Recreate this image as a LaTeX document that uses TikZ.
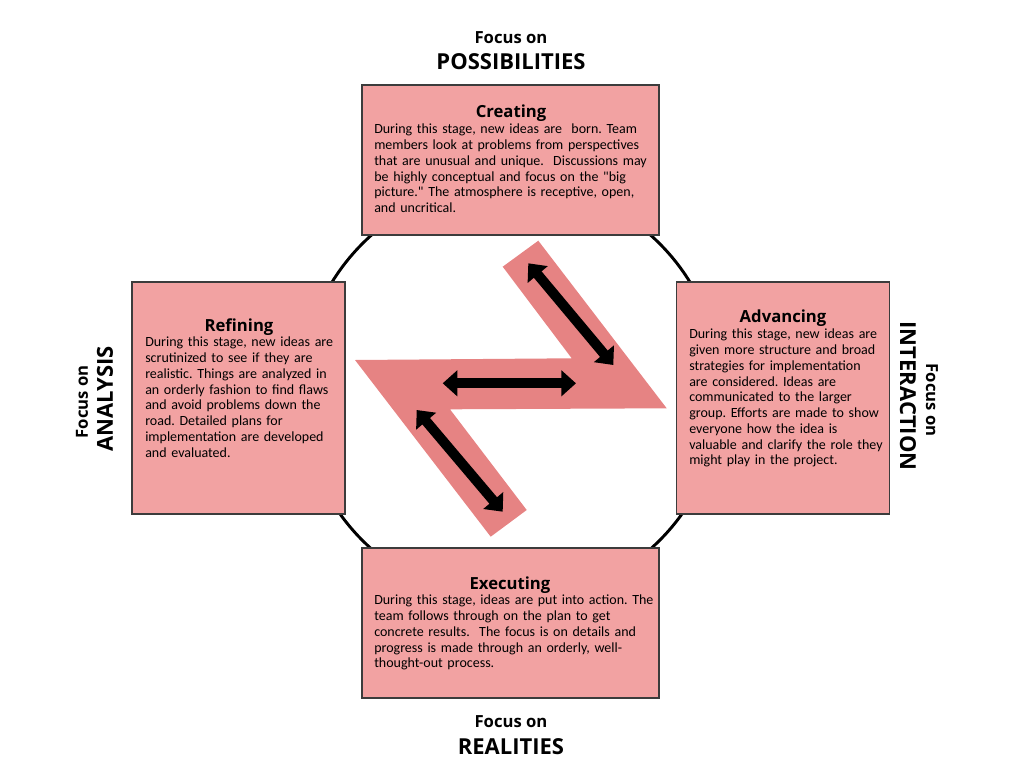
\documentclass[tikz,border=0pt]{standalone}
\usepackage{fontspec}
\setmainfont{Carlito}[Ligatures=TeXOff]
\newfontfamily\headfont{Open Sans}
\usetikzlibrary{arrows.meta,positioning}
\definecolor{stagepink}{HTML}{F2A2A2}
\definecolor{zpink}{HTML}{E68383}
\definecolor{edgegray}{HTML}{3C3C3C}
\frenchspacing

\begin{document}
\begin{tikzpicture}[
x=0.75pt, y=-0.75pt,
stagebox/.style={draw=edgegray, line width=0.9pt, fill=stagepink, inner sep=0pt},
wide/.style={minimum width=222.75pt, minimum height=112.5pt},
tall/.style={minimum width=159.75pt, minimum height=174pt},
head/.style={font=\headfont\bfseries\fontsize{12.5}{15}\selectfont, inner sep=0pt, anchor=base},
body/.style={font=\fontsize{10.5}{11.8}\selectfont, align=left, text width=#1, inner sep=0pt, anchor=north west},
focus/.style={font=\headfont\bfseries\fontsize{12.5}{15}\selectfont, inner sep=0pt},
focusbig/.style={font=\headfont\bfseries\fontsize{16.5}{20}\selectfont, inner sep=0pt},
dblarr/.style={{Triangle[length=11pt,width=19pt]}-{Triangle[length=11pt,width=19pt]}, line width=7.5pt}
]
\useasboundingbox (0,0) rectangle (1024,771);

% ring behind the four stages
\draw[line width=2.2pt] (511,392) circle[radius=210];

% the four stages
\node[stagebox, wide] (crt) at (510.5,160) {};
\node[stagebox, tall] (ref) at (238.5,398) {};
\node[stagebox, tall] (adv) at (783,398) {};
\node[stagebox, wide] (exe) at (510.5,623) {};

\node[head] (crtH) at (511,117) {Creating};
\node[body=230pt] (crtB) at (374,124) {During this stage, new ideas are \ born. Team\\
members look at problems from perspectives\\
that are unusual and unique. \ Discussions may\\
be highly conceptual and focus on the "big\\
picture." The atmosphere is receptive, open,\\
and uncritical.};

\node[head] (refH) at (239,331) {Refining};
\node[body=185pt] (refB) at (145,337) {During this stage, new ideas are\\
scrutinized to see if they are\\
realistic. Things are analyzed in\\
an orderly fashion to find flaws\\
and avoid problems down the\\
road. Detailed plans for\\
implementation are developed\\
and evaluated.};

\node[head] (advH) at (783,322) {Advancing};
\node[body=185pt] (advB) at (689,329) {During this stage, new ideas are\\
given more structure and broad\\
strategies for implementation\\
are considered. Ideas are\\
communicated to the larger\\
group. Efforts are made to show\\
everyone how the idea is\\
valuable and clarify the role they\\
might play in the project.};

\node[head] (exeH) at (510,589) {Executing};
\node[body=230pt] (exeB) at (374,595) {During this stage, ideas are put into action. The\\
team follows through on the plan to get\\
concrete results. \ The focus is on details and\\
progress is made through an orderly, well-\\
thought-out process.};

% focus labels
\node[focus] (posA) at (511,38) {Focus on};
\node[focusbig] (posB) at (511,62) {POSSIBILITIES};
\node[focus] (reaA) at (511,722) {Focus on};
\node[focusbig] (reaB) at (511,747) {REALITIES};
\node[focus, rotate=90] (anaA) at (82,402) {Focus on};
\node[focusbig, rotate=90] (anaB) at (105,399) {ANALYSIS};
\node[focusbig, rotate=-90] (intB) at (908,396) {INTERACTION};
\node[focus, rotate=-90] (intA) at (932,400) {Focus on};

% the Z band
\fill[zpink] (502.7,266.7) -- (538.3,240.7) -- (666.7,408.3) -- (450,409.3)
  -- (526.7,510) -- (490.7,536.7) -- (355,360) -- (571.7,358.3) -- cycle;

\coordinate (upA) at (528.3,263.3);
\coordinate (upB) at (613.3,365);
\coordinate (midA) at (442.7,383.3);
\coordinate (midB) at (576,383.3);
\coordinate (lowA) at (416.7,410);
\coordinate (lowB) at (502.7,511.7);
\draw[dblarr] (upA) -- (upB);
\draw[dblarr] (midA) -- (midB);
\draw[dblarr] (lowA) -- (lowB);
\end{tikzpicture}
\end{document}
